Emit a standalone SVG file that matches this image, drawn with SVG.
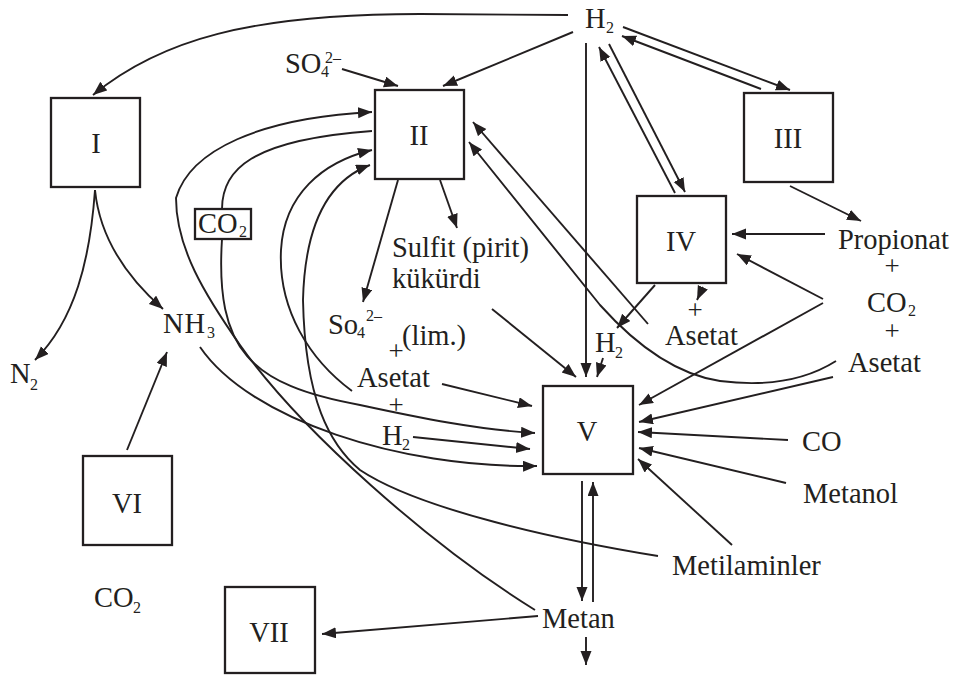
<svg xmlns="http://www.w3.org/2000/svg" width="955" height="675" viewBox="0 0 955 675">
<style>
  text { font-family: "Liberation Serif", "Times New Roman", serif; font-size: 28.5px; fill: #231f20; }
  .s { font-size: 16px; }
  .p { font-size: 27px; text-anchor: middle; }
  .m { text-anchor: middle; }
  .box { fill: #ffffff; stroke: #231f20; stroke-width: 2.3; }
  .c path, .c line { fill: none; stroke: #231f20; stroke-width: 1.9; }
  .a { marker-end: url(#ah); }
</style>
<defs>
  <marker id="ah" markerUnits="userSpaceOnUse" markerWidth="16" markerHeight="12" refX="14" refY="5.5" orient="auto">
    <path d="M0,0 L14,5.5 L0,11 z" fill="#231f20"/>
  </marker>
</defs>
<rect width="955" height="675" fill="#ffffff"/>

<g id="connectors" class="c">
  <path class="a" d="M568,15 L420,14 C250,14 160,40 93,95"/>
  <line class="a" x1="573" y1="32" x2="443" y2="86"/>
  <line class="a" x1="342" y1="69" x2="398" y2="86"/>
  <line class="a" x1="586" y1="43" x2="586" y2="377"/>
  <line class="a" x1="623" y1="27" x2="790" y2="90"/>
  <line class="a" x1="761" y1="89" x2="622" y2="36"/>
  <line class="a" x1="609" y1="44" x2="685" y2="192"/>
  <line class="a" x1="675" y1="193" x2="599" y2="47"/>
  <line class="a" x1="790" y1="186" x2="861" y2="221"/>
  <line class="a" x1="825" y1="234" x2="732" y2="234"/>
  <line class="a" x1="823" y1="299" x2="737" y2="254"/>
  <line class="a" x1="823" y1="303" x2="639" y2="405"/>
  <line class="a" x1="833" y1="377" x2="639" y2="422"/>
  <line class="a" x1="788" y1="440" x2="638" y2="432"/>
  <line class="a" x1="786" y1="483" x2="639" y2="448"/>
  <line class="a" x1="732" y1="545" x2="638" y2="459"/>
  <line class="a" x1="582" y1="481" x2="582" y2="601"/>
  <line class="a" x1="593" y1="602" x2="593" y2="482"/>
  <line class="a" x1="586" y1="637" x2="586" y2="665"/>
  <line class="a" x1="538" y1="616" x2="322" y2="634"/>
  <path class="a" d="M535,610 C430,545 300,430 240,345 C205,295 176,248 176,198 C190,150 260,118 372,112"/>
  <path class="a" d="M658,556 C560,540 420,510 360,470 C330,445 305,400 303,300 C305,220 330,180 370,165"/>
  <path class="a" d="M352,391 C310,360 278,310 281,250 C284,195 322,162 372,150"/>
  <path d="M222,209 C222,170 250,140 372,131"/>
  <path class="a" d="M222,239 C215,350 250,385 360,405 C420,418 480,430 535,433"/>
  <path class="a" d="M200,347 C250,420 400,468 537,466"/>
  <line class="a" x1="648" y1="324" x2="473" y2="122"/>
  <path class="a" d="M836,361 Q790,390 720,381 Q660,372 600,305 L469,142"/>
  <line class="a" x1="655" y1="285" x2="617" y2="328"/>
  <line class="a" x1="703" y1="287" x2="697" y2="300"/>
  <line class="a" x1="603" y1="358" x2="597" y2="377"/>
  <line class="a" x1="492" y1="309" x2="576" y2="377"/>
  <line class="a" x1="440" y1="180" x2="457" y2="228"/>
  <line class="a" x1="398" y1="180" x2="363" y2="302"/>
  <line class="a" x1="442" y1="384" x2="532" y2="406"/>
  <line class="a" x1="413" y1="437" x2="530" y2="449"/>
  <path class="a" d="M95,190 C90,260 75,320 35,360"/>
  <path class="a" d="M95,190 C100,240 130,280 163,309"/>
  <line class="a" x1="127" y1="450" x2="167" y2="352"/>
</g>

<g id="node-I"><rect class="box" x="51" y="98" width="89" height="89"/><text class="m" x="96" y="153">I</text></g>
<g id="node-II"><rect class="box" x="375" y="90" width="89" height="89"/><text class="m" x="419" y="145">II</text></g>
<g id="node-III"><rect class="box" x="744" y="93" width="89" height="89"/><text class="m" x="788" y="148">III</text></g>
<g id="node-IV"><rect class="box" x="637" y="196" width="89" height="87"/><text class="m" x="681" y="251">IV</text></g>
<g id="node-V"><rect class="box" x="543" y="386" width="90" height="88"/><text class="m" x="587" y="441">V</text></g>
<g id="node-VI"><rect class="box" x="83" y="456" width="89" height="89"/><text class="m" x="127" y="513">VI</text></g>
<g id="node-VII"><rect class="box" x="225" y="587" width="90" height="86"/><text class="m" x="269" y="642">VII</text></g>
<g id="node-CO2-box"><rect class="box" x="195" y="209" width="56" height="30" stroke-width="2"/><text x="198" y="233">CO</text><text class="s" x="239" y="237">2</text></g>

<g id="label-H2-top"><text x="585" y="28">H</text><text class="s" x="606" y="33">2</text></g>
<g id="label-SO4"><text x="285" y="73">SO</text><text class="s" x="321" y="77">4</text><text class="s" x="325" y="63">2–</text></g>
<g id="label-NH3"><text x="163" y="333" letter-spacing="1">NH</text><text class="s" x="207" y="338">3</text></g>
<g id="label-N2"><text x="10" y="383">N</text><text class="s" x="30" y="390">2</text></g>
<g id="label-sulfit"><text x="392" y="257">Sulfit (pirit)</text><text x="392" y="288">kükürdi</text></g>
<g id="label-So4-lim"><text x="328" y="334">So</text><text class="s" x="357" y="338">4</text><text class="s" x="366" y="321">2–</text><text x="402" y="345">(lim.)</text><text class="p" x="396" y="360">+</text></g>
<g id="label-asetat-mid"><text x="357" y="387">Asetat</text><text class="p" x="396" y="414">+</text></g>
<g id="label-H2-mid"><text x="382" y="445">H</text><text class="s" x="402" y="450">2</text></g>
<g id="label-H2-V"><text x="595" y="352">H</text><text class="s" x="615" y="358">2</text></g>
<g id="label-asetat-IV"><text class="p" x="695" y="319">+</text><text x="665" y="345">Asetat</text></g>
<g id="label-propionat"><text x="838" y="249">Propionat</text><text class="p" x="892" y="275">+</text><text x="867" y="312">CO</text><text class="s" x="908" y="316">2</text><text class="p" x="892" y="340">+</text><text x="848" y="372">Asetat</text></g>
<g id="label-CO"><text x="802" y="451">CO</text></g>
<g id="label-metanol"><text x="803" y="503">Metanol</text></g>
<g id="label-metilaminler"><text x="672" y="575">Metilaminler</text></g>
<g id="label-metan"><text x="542" y="628">Metan</text></g>
<g id="label-CO2-bottom"><text x="94" y="607">CO</text><text class="s" x="133" y="613">2</text></g>
</svg>
